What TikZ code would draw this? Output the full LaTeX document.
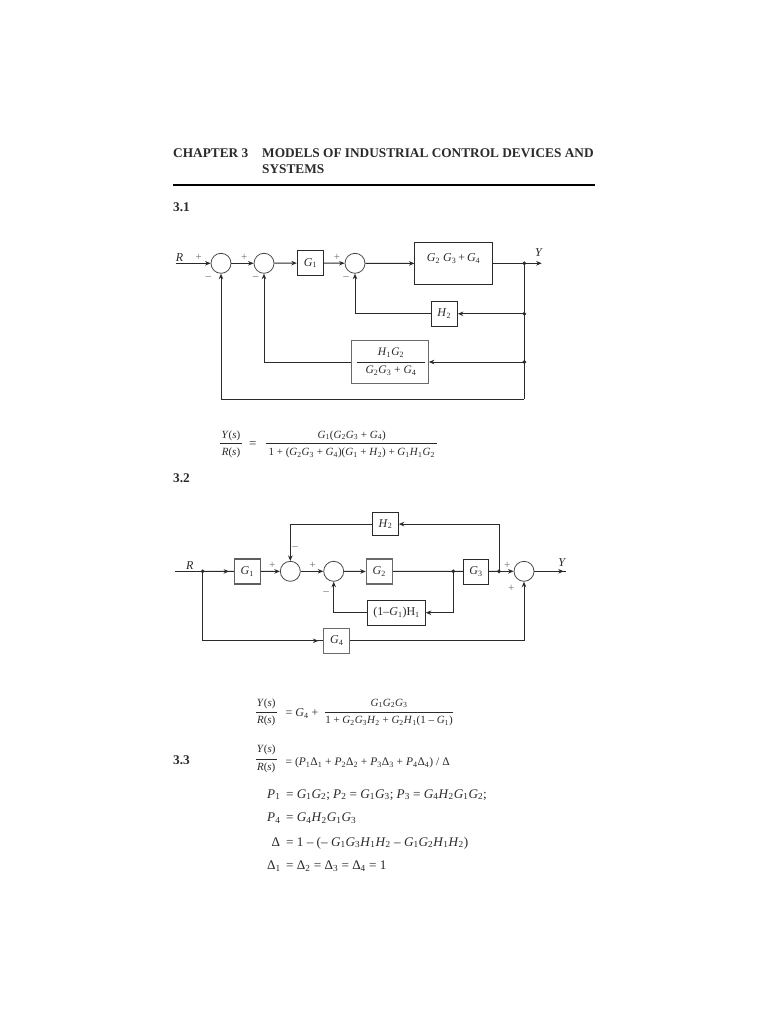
\documentclass[tikz,border=0pt]{standalone}
\usepackage[no-math]{fontspec}
\setmainfont{Liberation Serif}
\usetikzlibrary{arrows.meta,decorations.markings}
\definecolor{ink}{HTML}{2A2A2A}
\definecolor{soft}{HTML}{6A6A6A}
\newcommand\vv[2]{\textit{#1}\textsubscript{#2}}
\newcommand\Ys{\textit{Y}(\textit{s})}
\newcommand\Rs{\textit{R}(\textit{s})}
\tikzset{
  wire/.style={draw=ink,line width=1pt},
  flow/.style={wire,-{Stealth[length=5.5pt,width=4.5pt]}},
  midtip/.style={wire,postaction={decorate},decoration={markings,mark=at position #1 with {\arrow{Stealth[length=5.5pt,width=4.5pt]}}}},
  sumc/.style={circle,draw=ink!85,line width=0.8pt,minimum size=20pt,inner sep=0pt},
  blk/.style={rectangle,draw=ink,line width=1pt,inner sep=0pt,text=ink,font=\fontsize{12}{14}\selectfont},
  softblk/.style={blk,draw=soft,line width=1.1pt},
  dotj/.style={circle,fill=ink,draw=ink,line width=0.4pt,minimum size=3.4pt,inner sep=0pt},
  lab/.style={inner sep=0pt,text=ink,font=\fontsize{12}{14}\selectfont},
  sgn/.style={inner sep=0pt,text=soft,font=\fontsize{11}{12}\selectfont},
  eqn/.style={inner sep=0pt,text=ink,font=\fontsize{11}{13}\selectfont},
  eqb/.style={inner sep=0pt,text=ink,font=\fontsize{12}{14}\selectfont},
  eqr/.style={inner sep=0pt,anchor=base west,text=ink,font=\fontsize{13.2}{15}\selectfont},
  head/.style={inner sep=0pt,anchor=base west,text=ink,font=\fontsize{13.3}{15}\selectfont\bfseries},
  rulel/.style={draw=ink,line width=0.9pt}
}
\begin{document}
\begin{tikzpicture}[x=1pt,y=-1pt]
\useasboundingbox[fill=white] (0,0) rectangle (768,1024);
% heading
\node[head] (ch) at (173,157.5) {CHAPTER 3};
\node[head] (t1) at (262,157.5) {MODELS OF INDUSTRIAL CONTROL DEVICES AND};
\node[head] (t2) at (262,173.5) {SYSTEMS};
\draw[draw=black,line width=2pt] (173,185) coordinate (ra) -- (595,185) coordinate (rb);
\node[head] (s31) at (173,211.5) {3.1};
\node[head] (s32) at (173,482.5) {3.2};
\node[head] (s33) at (173,764.5) {3.3};

% ---- 3.1
\coordinate (inA) at (175.7,263.3);
\node[sumc] (a1) at (221,263.3) {};
\node[sumc] (a2) at (264,263.3) {};
\node[blk,minimum width=26.4pt,minimum height=24.6pt] (aG1) at (310.5,263) {\vv{G}{1}};
\node[sumc] (a3) at (355,263.3) {};
\node[blk,minimum width=77.3pt,minimum height=42.4pt] (aP) at (453.6,263.5) {};
\node[lab] (aPt) at (453.6,258.5) {\vv{G}{2} \vv{G}{3}\,+\,\vv{G}{4}};
\node[dotj] (aJ1) at (524.3,263.3) {};
\coordinate (aY) at (541.7,263.3);
\node[blk,minimum width=26.3pt,minimum height=25pt] (aH2) at (444.2,313.8) {\vv{H}{2}};
\node[dotj] (aJ2) at (524.3,313.8) {};
\node[softblk,minimum width=76.6pt,minimum height=43pt] (aF) at (390,361.8) {};
\node[lab,font=\fontsize{11.5}{13}\selectfont] (aFn) at (391,353) {\vv{H}{1}\vv{G}{2}};
\node[lab,font=\fontsize{11.5}{13}\selectfont] (aFd) at (391,370.5) {\vv{G}{2}\vv{G}{3} + \vv{G}{4}};
\draw[wire] (356.7,362) coordinate (aFl) -- (425,362) coordinate (aFr);
\node[dotj] (aJ3) at (524.3,362) {};
\coordinate (aC) at (524.3,399.3);
\node[lab] (aR) at (179.5,258) {\textit{R}};
\node[lab] (aYl) at (539,253) {\textit{Y}};
\node[sgn] at (198.7,257.7) {+};
\node[sgn] at (208.3,277.7) {–};
\node[sgn] at (244.3,257.7) {+};
\node[sgn] at (255.7,278) {–};
\node[sgn] at (337,257.7) {+};
\node[sgn] at (346,278) {–};

\draw[flow] (inA) -- (a1);
\draw[flow] (a1) -- (a2);
\draw[flow] (a2) -- (aG1);
\draw[flow] (aG1) -- (a3);
\draw[flow] (a3) -- (aP);
\draw[wire] (aP.east |- aJ1) -- (aJ1.center);
\draw[flow] (aJ1.center) -- (aY);
\draw[wire] (aJ1.center) -- (aC);
\draw[flow] (aJ2.center) -- (aH2);
\draw[flow] (aH2.west) -| (a3.south);
\draw[flow] (aJ3.center) -- (aF.east |- aJ3);
\draw[flow] (aF.west |- aJ3) -| (a2.south);
\draw[flow] (aC) -| (a1.south);

% eq 3.1
\node[eqn] (e1a) at (231,435.5) {\Ys};
\node[eqn] (e1b) at (231,452.8) {\Rs};
\draw[rulel] (220,443.3) coordinate (e1c) -- (242.3,443.3) coordinate (e1d);
\node[eqb,font=\fontsize{13}{14}\selectfont] (e1e) at (252.7,444.5) {=};
\node[eqn] (e1f) at (351.7,435.5) {\vv{G}{1}(\vv{G}{2}\vv{G}{3} + \vv{G}{4})};
\node[eqn] (e1g) at (351.7,453) {1 + (\vv{G}{2}\vv{G}{3} + \vv{G}{4})(\vv{G}{1} + \vv{H}{2}) + \vv{G}{1}\vv{H}{1}\vv{G}{2}};
\draw[rulel] (266,443.3) coordinate (e1h) -- (436.7,443.3) coordinate (e1i);

% ---- 3.2
\coordinate (inB) at (175,571.3);
\node[dotj] (bJ0) at (202.7,571.3) {};
\node[softblk,draw=ink!75,minimum width=26pt,minimum height=25pt] (bG1) at (247.3,571.5) {\vv{G}{1}};
\node[sumc] (b1) at (290.3,571.3) {};
\node[sumc] (b2) at (333.7,571.3) {};
\node[softblk,minimum width=26pt,minimum height=25pt] (bG2) at (379.3,571.5) {\vv{G}{2}};
\node[dotj] (bJ1) at (453.3,571.3) {};
\node[blk,minimum width=25.4pt,minimum height=25pt] (bG3) at (476,571.5) {\vv{G}{3}};
\node[dotj] (bJ2) at (499,571.3) {};
\node[sumc] (b3) at (524,571.3) {};
\coordinate (bY) at (566,571.3);
\node[blk,minimum width=25.6pt,minimum height=23.7pt] (bH2) at (385.5,524.1) {\vv{H}{2}};
\node[blk,minimum width=57.6pt,minimum height=25.3pt] (bH1) at (396.5,612.7) {(1–\vv{G}{1})H\textsubscript{1}};
\node[softblk,minimum width=26pt,minimum height=25pt] (bG4) at (336.7,640.8) {\vv{G}{4}};
\coordinate (bC1) at (524,640.8);
\node[lab] (bR) at (189.7,566) {\textit{R}};
\node[lab] (bYl) at (562.3,562.3) {\textit{Y}};
\node[sgn] at (272.3,565) {+};
\node[sgn] at (295,548.3) {–};
\node[sgn] at (312.7,565) {+};
\node[sgn] at (326,592.7) {–};
\node[sgn] at (507.3,565) {+};
\node[sgn] at (511.3,588.7) {+};

\draw[wire] (inB) -- (bJ0.center);
\draw[midtip=0.85] (bJ0.center) -- (bG1);
\draw[flow] (bG1) -- (b1);
\draw[flow] (b1) -- (b2);
\draw[flow] (b2) -- (bG2);
\draw[wire] (bG2) -- (bJ1.center);
\draw[wire] (bJ1.center) -- (bG3);
\draw[wire] (bG3) -- (bJ2.center);
\draw[flow] (bJ2.center) -- (b3);
\draw[midtip=0.93] (b3) -- (bY);
\draw[flow] (bJ2.center) |- (bH2);
\draw[flow] (bH2) -| (b1.north);
\draw[flow] (bJ1.center) |- (bH1);
\draw[flow] (bH1) -| (b2.south);
\draw[midtip=0.975] (bJ0.center) |- (bG4);
\draw[wire] (bG4) -- (bC1);
\draw[flow] (bC1) -- (b3.south);

% eq 3.2
\node[eqn] (e2a) at (266.2,703.5) {\Ys};
\node[eqn] (e2b) at (266.2,721) {\Rs};
\draw[rulel] (255.7,712.7) coordinate (e2c) -- (276.7,712.7) coordinate (e2d);
\node[eqb,anchor=west] (e2e) at (285.5,713.5) {= \vv{G}{4} +};
\node[eqn] (e2f) at (389,703.5) {\vv{G}{1}\vv{G}{2}\vv{G}{3}};
\node[eqn] (e2g) at (389,721) {1 + \vv{G}{2}\vv{G}{3}\vv{H}{2} + \vv{G}{2}\vv{H}{1}(1 – \vv{G}{1})};
\draw[rulel] (325,712.7) coordinate (e2h) -- (453.3,712.7) coordinate (e2i);

% eq 3.3
\node[eqn] (e3a) at (266.2,750) {\Ys};
\node[eqn] (e3b) at (266.2,767.5) {\Rs};
\draw[rulel] (255.7,759) coordinate (e3c) -- (276.7,759) coordinate (e3d);
\node[eqb,anchor=west,font=\fontsize{11.5}{14}\selectfont] (e3e) at (285.5,762.7) {= (\vv{P}{1}Δ\textsubscript{1} + \vv{P}{2}Δ\textsubscript{2} + \vv{P}{3}Δ\textsubscript{3} + \vv{P}{4}Δ\textsubscript{4}) / Δ};
\node[eqr] (e3f) at (267,798) {\vv{P}{1}};
\node[eqr] (e3fb) at (286,798) {= \vv{G}{1}\vv{G}{2}; \vv{P}{2} = \vv{G}{1}\vv{G}{3}; \vv{P}{3} = \vv{G}{4}\vv{H}{2}\vv{G}{1}\vv{G}{2};};
\node[eqr] (e3g) at (267,821.5) {\vv{P}{4}};
\node[eqr] (e3gb) at (286,821.5) {= \vv{G}{4}\vv{H}{2}\vv{G}{1}\vv{G}{3}};
\node[eqr] (e3h) at (271.5,846) {Δ};
\node[eqr] (e3hb) at (286,846) {= 1 – (– \vv{G}{1}\vv{G}{3}\vv{H}{1}\vv{H}{2} – \vv{G}{1}\vv{G}{2}\vv{H}{1}\vv{H}{2})};
\node[eqr] (e3i) at (267,869.5) {Δ\textsubscript{1}};
\node[eqr] (e3ib) at (286,869.5) {= Δ\textsubscript{2} = Δ\textsubscript{3} = Δ\textsubscript{4} = 1};
\end{tikzpicture}
\end{document}
